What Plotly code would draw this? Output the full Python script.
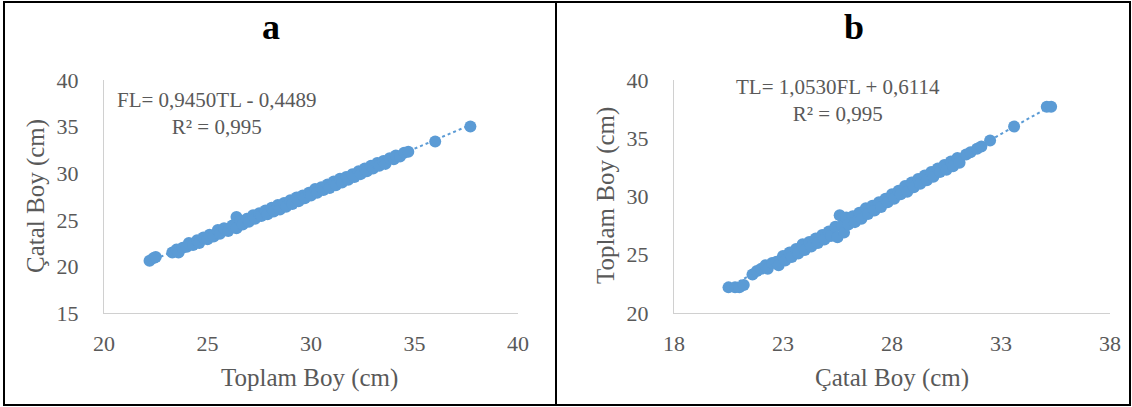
import plotly.graph_objects as go

# ---------------- data ----------------
# Panel a: Toplam Boy (TL, x) vs Çatal Boy (FL, y)
tl_a = [22.2, 22.4, 22.5, 23.3, 23.5, 23.6, 23.8, 24.0, 24.1, 24.3, 24.5, 24.6, 24.8, 25.0, 25.1, 25.3,
        25.5, 25.6, 25.8, 26.0, 26.2, 26.4, 26.4, 26.6, 26.7, 26.9, 27.0, 27.2, 27.3, 27.5, 27.6, 27.8,
        27.9, 28.1, 28.2, 28.4, 28.5, 28.7, 28.8, 29.0, 29.1, 29.3, 29.4, 29.6, 29.7, 29.9, 30.0, 30.2,
        30.3, 30.5, 30.6, 30.8, 30.9, 31.1, 31.2, 31.4, 31.5, 31.7, 31.8, 32.0, 32.1, 32.3, 32.4, 32.6,
        32.7, 32.9, 33.0, 33.2, 33.3, 33.5, 33.6, 33.8, 34.0, 34.1, 34.3, 34.5, 34.7, 36.0, 37.7]
fl_a = [20.6, 20.9, 21.0, 21.5, 21.8, 21.5, 22.0, 22.1, 22.5, 22.3, 22.8, 22.5, 23.1, 22.9, 23.4, 23.2,
        23.9, 23.5, 24.1, 23.8, 24.4, 25.3, 24.1, 24.9, 24.5, 25.1, 24.8, 25.5, 25.1, 25.7, 25.4, 26.0,
        25.6, 26.3, 25.9, 26.6, 26.1, 26.8, 26.4, 27.1, 26.7, 27.4, 27.0, 27.6, 27.3, 27.9, 27.6, 28.3,
        27.9, 28.5, 28.2, 28.8, 28.4, 29.1, 28.7, 29.4, 29.0, 29.6, 29.3, 29.9, 29.6, 30.2, 29.9, 30.5,
        30.2, 30.8, 30.5, 31.1, 30.8, 31.3, 31.0, 31.6, 31.5, 31.9, 31.8, 32.2, 32.3, 33.4, 35.0]
trend_a_x = [22.2, 37.7]
trend_a_y = [20.53, 35.18]

# Panel b: Çatal Boy (FL, x) vs Toplam Boy (TL, y)
fl_b = [20.5, 20.8, 21.0, 21.2, 21.6, 21.8, 22.0, 22.2, 22.3, 22.5, 22.7, 22.8, 23.0, 23.1, 23.3, 23.4,
        23.6, 23.7, 23.9, 24.0, 24.2, 24.3, 24.5, 24.6, 24.8, 24.9, 25.1, 25.2, 25.4, 25.5, 25.6, 25.7,
        25.8, 25.9, 26.0, 26.2, 26.3, 26.5, 26.6, 26.8, 26.9, 27.1, 27.2, 27.4, 27.5, 27.7, 27.8, 28.0,
        28.1, 28.3, 28.4, 28.6, 28.7, 28.9, 29.0, 29.2, 29.3, 29.5, 29.6, 29.8, 29.9, 30.1, 30.2, 30.4,
        30.5, 30.7, 30.8, 31.0, 31.1, 31.4, 31.6, 31.9, 32.1, 32.5, 33.6, 35.1, 35.3]
tl_b = [22.2, 22.2, 22.2, 22.4, 23.3, 23.6, 23.8, 24.1, 23.8, 24.3, 24.4, 24.1, 24.9, 24.5, 25.2, 24.8,
        25.5, 25.1, 25.9, 25.4, 26.1, 25.7, 26.4, 26.0, 26.7, 26.3, 27.0, 26.6, 27.4, 26.5, 28.4, 27.5,
        26.9, 28.2, 27.6, 28.3, 27.8, 28.6, 28.1, 29.0, 28.5, 29.2, 28.8, 29.5, 29.1, 29.8, 29.5, 30.2,
        29.8, 30.5, 30.2, 30.9, 30.4, 31.2, 30.8, 31.5, 31.1, 31.8, 31.4, 32.1, 31.7, 32.4, 32.1, 32.7,
        32.3, 33.0, 32.6, 33.3, 32.9, 33.6, 33.8, 34.1, 34.3, 34.8, 36.0, 37.7, 37.7]
trend_b_x = [20.5, 35.3]
trend_b_y = [22.20, 37.78]

xticks_a = [20, 25, 30, 35, 40]
yticks_a = [15, 20, 25, 30, 35, 40]
xticks_b = [18, 23, 28, 33, 38]
yticks_b = [20, 25, 30, 35, 40]

eq_a = "FL= 0,9450TL - 0,4489<br>R² = 0,995"
eq_b = "TL= 1,0530FL + 0,6114<br>R² = 0,995"

# ---------------- style ----------------
W, H = 1132, 407
BLUE = "#5B9BD5"
GREY = "#595959"
AXIS = "#D0D0D0"
FONT = "Liberation Serif"

def px(x):
    return x / W

def py(y):
    return 1 - y / H

fig = go.Figure()

for xs, ys, tx, ty, xa, ya in [
    (tl_a, fl_a, trend_a_x, trend_a_y, "x", "y"),
    (fl_b, tl_b, trend_b_x, trend_b_y, "x2", "y2"),
]:
    fig.add_trace(go.Scatter(x=tx, y=ty, mode="lines", xaxis=xa, yaxis=ya,
                             line=dict(color=BLUE, width=2, dash="dot"),
                             showlegend=False, hoverinfo="skip"))
    fig.add_trace(go.Scatter(x=xs, y=ys, mode="markers", xaxis=xa, yaxis=ya,
                             marker=dict(color=BLUE, size=12, line=dict(width=0)),
                             showlegend=False))

axis_common = dict(showgrid=False, zeroline=False, showline=True, linecolor=AXIS,
                   linewidth=1, ticks="", tickfont=dict(family=FONT, size=22, color=GREY),
                   fixedrange=True, automargin=False)

fig.update_layout(
    template="none",
    width=W, height=H,
    margin=dict(l=0, r=0, t=0, b=0, pad=0, autoexpand=False),
    showlegend=False,
    paper_bgcolor="white", plot_bgcolor="white",
    xaxis=dict(domain=[px(104), px(518)], range=[20, 40], tickvals=xticks_a,
               anchor="y", ticklabelstandoff=11, **axis_common),
    yaxis=dict(domain=[py(313), py(80)], range=[15, 40], tickvals=yticks_a,
               anchor="x", ticklabelstandoff=20, **axis_common),
    xaxis2=dict(domain=[px(674), px(1110)], range=[18, 38], tickvals=xticks_b,
                anchor="y2", ticklabelstandoff=11, **axis_common),
    yaxis2=dict(domain=[py(313), py(80)], range=[20, 40], tickvals=yticks_b,
                anchor="x2", ticklabelstandoff=20, **axis_common),
)

ann = []
# panel titles
ann.append(dict(text="<b>a</b>", x=px(271), y=py(27), font=dict(family=FONT, size=36, color="black")))
ann.append(dict(text="<b>b</b>", x=px(854), y=py(27), font=dict(family=FONT, size=36, color="black")))
# axis titles
ann.append(dict(text="Toplam Boy (cm)", x=px(309), y=py(378), font=dict(family=FONT, size=25, color=GREY)))
ann.append(dict(text="Çatal Boy (cm)", x=px(36), y=py(196), textangle=-90, font=dict(family=FONT, size=25, color=GREY)))
ann.append(dict(text="Çatal Boy (cm)", x=px(892), y=py(378), font=dict(family=FONT, size=25, color=GREY)))
ann.append(dict(text="Toplam Boy (cm)", x=px(606), y=py(196), textangle=-90, font=dict(family=FONT, size=25, color=GREY)))
# equations
ann.append(dict(text=eq_a, x=px(216), y=py(113), align="center", font=dict(family=FONT, size=21, color=GREY)))
ann.append(dict(text=eq_b, x=px(838), y=py(100), align="center", font=dict(family=FONT, size=21, color=GREY)))

for a in ann:
    a.update(xref="paper", yref="paper", showarrow=False, xanchor="center", yanchor="middle")
fig.update_layout(annotations=ann)

# frame and divider
fig.update_layout(shapes=[
    dict(type="rect", xref="paper", yref="paper", x0=px(4), x1=px(1130), y0=py(405), y1=py(2),
         line=dict(color="black", width=2)),
    dict(type="line", xref="paper", yref="paper", x0=px(556), x1=px(556), y0=py(405), y1=py(2),
         line=dict(color="black", width=2)),
])

fig.write_html("out.html", config={"displayModeBar": False},
               post_script="document.body.style.margin='0';document.body.style.overflow='hidden';")
